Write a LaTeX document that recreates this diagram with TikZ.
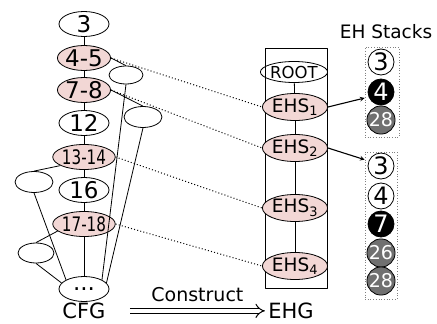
\documentclass[tikz,border=0pt]{standalone}
\usepackage{fontspec}
\setmainfont{DejaVu Sans}
\usetikzlibrary{shapes.geometric,arrows.meta}
\newcommand{\fsz}[1]{\fontsize{#1}{#1}\selectfont}
\newcommand{\narrow}[1]{\scalebox{0.76}[1]{#1}}
\definecolor{loopfill}{RGB}{242,215,213}
\definecolor{stackgray}{RGB}{112,112,112}
\begin{document}
\begin{tikzpicture}[x=1pt, y=-1pt, line width=0.8pt, line join=round, >=stealth]

		\tikzset{blk/.style={ellipse, draw, inner sep=0pt, minimum width=50, minimum height=25, font=\fsz{23}},
			loopblk/.style={blk, fill=loopfill},
			sideblk/.style={ellipse, draw, inner sep=0pt, minimum width=36, minimum height=20},
			ehs/.style={ellipse, draw, fill=loopfill, inner sep=0pt, minimum width=56, minimum height=27, font=\fsz{18.5}},
			stackbox/.style={draw=gray, dotted, line width=0.7pt, inner sep=0pt},
			elem/.style={circle, draw, inner sep=0pt, minimum size=26, font=\fsz{24}},
			top/.style={elem, fill=black, text=white},
			old/.style={elem, fill=stackgray, text=white, font=\fsz{19}},
			map/.style={line width=1pt, dash pattern=on 1pt off 2.2pt},
			label style/.style={font=\fsz{19}}}

		\useasboundingbox (0,0) rectangle (437,324);

		% CFG
		\node[blk] (b3) at (84,24) {3};
		\node[loopblk] (b45) at (84,58) {4-5};
		\node[loopblk] (b78) at (84,90) {7-8};
		\node[blk] (b12) at (84,123) {12};
		\node[loopblk, font=\fsz{20}] (b1314) at (84,157) {\narrow{13-14}};
		\node[blk] (b16) at (84,190) {16};
		\node[loopblk, font=\fsz{20}] (b1718) at (84,224) {\narrow{17-18}};
		\node[blk] (dots) at (84,289) {...};
		\node[sideblk, minimum width=34, minimum height=18] (s1) at (126,75) {};
		\node[sideblk, minimum width=38, minimum height=21] (s2) at (143,117) {};
		\node[sideblk, minimum width=38, minimum height=21] (s3) at (34,182) {};
		\node[sideblk] (s4) at (36,253) {};
		\foreach \a/\b in {b3/b45,b45/b78,b78/b12,b12/b1314,b1314/b16,b16/b1718,b1718/dots}
		\draw (\a) -- (\b);
		\draw (b45.east) -- (s1.north);
		\draw (b78.east) -- (s2.north);
		\draw (s1.south) -- (dots.north east);
		\draw (s2.south) -- (dots.15);
		\draw (b1314.200) -- (s3.north);
		\draw (s3.south) -- (dots.north west);
		\draw (b1718.195) -- (s4.north);
		\draw (s4.south) -- (dots.165);

		% EHG
		\node[draw, inner sep=0pt, minimum width=62, minimum height=240] (ehgbox) at (296,168) {};
		\node[ellipse, draw, inner sep=0pt, minimum width=47, minimum height=21, font=\fsz{16.5}] (root) at (294,72) {ROOT};
		\node[ehs] (ehs1) at (295,107) {EHS\textsubscript{1}};
		\node[ehs] (ehs2) at (295,148) {EHS\textsubscript{2}};
		\node[ehs] (ehs3) at (295,208) {EHS\textsubscript{3}};
		\node[ehs] (ehs4) at (295,266) {EHS\textsubscript{4}};
		\foreach \a/\b in {root/ehs1,ehs1/ehs2,ehs2/ehs3,ehs3/ehs4}
		\draw (\a) -- (\b);
		\foreach \a/\b in {b45/ehs1,b78/ehs2,b1314/ehs3,b1718/ehs4}
		\draw[map] (\a.east) -- (\b.west);

		% EH stacks
		\node[label style, font=\fsz{18.5}] (stk) at (386,32) {EH Stacks};
		\node[stackbox, minimum width=34, minimum height=90] (stack1) at (382,92) {};
		\node[stackbox, minimum width=32, minimum height=147] (stack2) at (381,225.5) {};
		\node[elem] (p3) at (381,62) {3};
		\node[top] (p4) at (381,92) {4};
		\node[old] (p28) at (381,120) {28};
		\node[elem] (q3) at (381,166) {3};
		\node[elem] (q4) at (381,196) {4};
		\node[top] (q7) at (381,224) {7};
		\node[old] (q26) at (381,253) {26};
		\node[old] (q28) at (381,281) {28};
		\draw[->, line width=1.1pt] (ehs1.east) -- ([yshift=-6pt]stack1.west);
		\draw[->, line width=1.1pt] (ehs2.east) -- ([yshift=-8pt]stack2.north west);

		% construct
		\node[label style, font=\fsz{21}, anchor=base, inner sep=1pt] (cfg) at (84,318.5) {CFG};
		\node[label style, font=\fsz{21}, anchor=base, inner sep=1pt] (ehg) at (291,318.5) {EHG};
		\draw[double, double distance=4pt, line width=1pt, -{Implies}] ([xshift=23pt]cfg.east) -- ([xshift=-2pt]ehg.west)
			node[midway, above=5pt, label style] (con) {Construct};
	\end{tikzpicture}
\end{document}
